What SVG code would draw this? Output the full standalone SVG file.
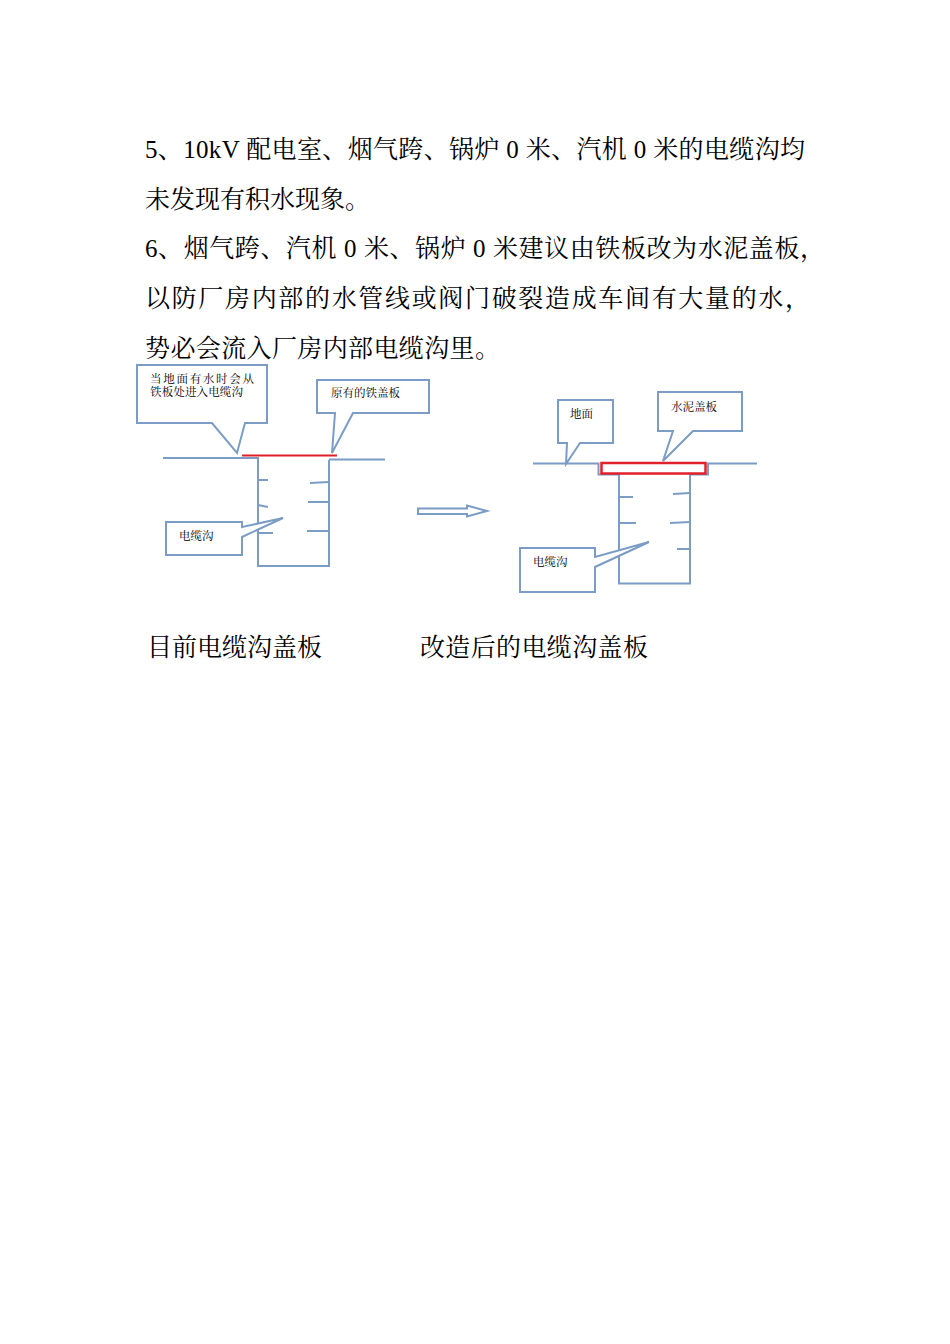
<svg xmlns="http://www.w3.org/2000/svg" width="950" height="1344" viewBox="0 0 950 1344">
<style>
.t{font-family:"Liberation Serif","Noto Serif CJK SC","Noto Sans CJK SC",serif;fill:#000}
.b{font-size:25px}
.s{font-size:11.5px}
.ln{fill:none;stroke:#7b9cc5;stroke-width:2;stroke-linejoin:miter}
.co{fill:#fff;stroke:#7b9cc5;stroke-width:2}
.red{fill:none;stroke:#e0202a;stroke-width:2}
</style>
<rect width="950" height="1344" fill="#fff"/>
<g id="body-text" class="t b">
<text x="145" y="158" textLength="660" lengthAdjust="spacing">5、10kV 配电室、烟气跨、锅炉 0 米、汽机 0 米的电缆沟均</text>
<text x="145" y="208">未发现有积水现象。</text>
<text x="145" y="257" textLength="680" lengthAdjust="spacing">6、烟气跨、汽机 0 米、锅炉 0 米建议由铁板改为水泥盖板，</text>
<text x="145" y="307" textLength="665" lengthAdjust="spacing">以防厂房内部的水管线或阀门破裂造成车间有大量的水，</text>
<text x="145" y="357" textLength="355" lengthAdjust="spacing">势必会流入厂房内部电缆沟里。</text>
</g>
<g id="connectors">
<path class="ln" d="M163,458 H258 V566 H329 V460 M329,459.5 H385"/>
<path class="ln" d="M258,480 H268 M258,505 L268,507 M258,533 H273 M310,483 L329,482 M308,502 H329 M307,531 H329"/>
<path class="red" d="M242,455.5 H337"/>
<path class="ln" d="M533,463.5 H598.5 V474.5 H619 V583.5 H690 V474.5 H708 V463.5 H757"/>
<path class="ln" d="M619,497 H633 M619,523 H636 M673,494 L690,493 M670,523 L690,522 M677,549 H690"/>
<rect x="601.5" y="463" width="104" height="10.5" fill="#fff" stroke="#e0202a" stroke-width="2.5"/>
<path class="co" d="M418,508.5 H467 V505.5 L487,511 L467,516.5 V514 H418 Z"/>
</g>
<g id="callout-water">
<path class="co" d="M137,365 H267 V423 H245 L237,453 L212,423 H137 Z"/>
<text class="t s" x="150" y="383" textLength="104" lengthAdjust="spacing">当地面有水时会从</text>
<text class="t s" x="150" y="396" textLength="93" lengthAdjust="spacing">铁板处进入电缆沟</text>
</g>
<g id="callout-iron">
<path class="co" d="M317,380 H429 V413 H353 L332,453 L335,413 H317 Z"/>
<text class="t s" x="331" y="397">原有的铁盖板</text>
</g>
<g id="callout-trench-left">
<path class="co" d="M166,522 H242 V527 L283,518 L242,537 V555 H166 Z"/>
<text class="t s" x="179" y="540">电缆沟</text>
</g>
<g id="callout-ground">
<path class="co" d="M558,400 H613 V443 H580 L566,464 L567,443 H558 Z"/>
<text class="t s" x="570" y="418">地面</text>
</g>
<g id="callout-cement">
<path class="co" d="M658,392 H742 V431 H693 L663,461 L673,431 H658 Z"/>
<text class="t s" x="671" y="411">水泥盖板</text>
</g>
<g id="callout-trench-right">
<path class="co" d="M520,548 H595 V557 L649,542 L595,567 V592 H520 Z"/>
<text class="t s" x="533" y="566">电缆沟</text>
</g>
<g id="captions" class="t b">
<text x="147" y="656" textLength="175" lengthAdjust="spacing">目前电缆沟盖板</text>
<text x="420" y="656" textLength="228" lengthAdjust="spacing">改造后的电缆沟盖板</text>
</g>
</svg>
